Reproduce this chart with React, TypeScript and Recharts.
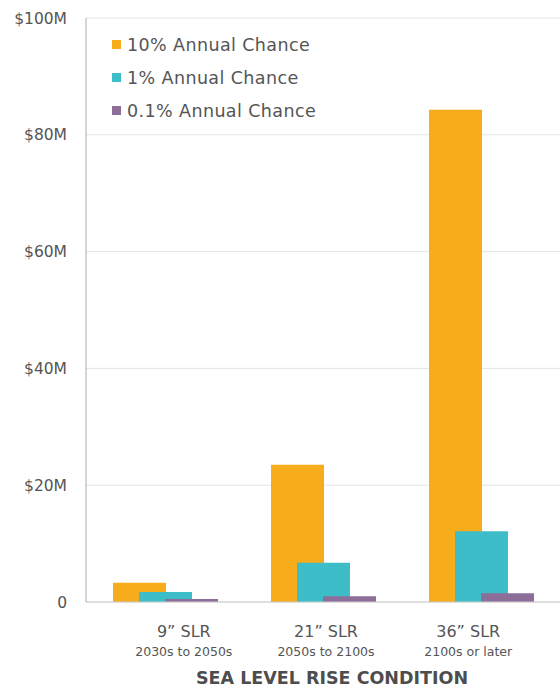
import React from "react";
import {
  Bar,
  BarChart,
  CartesianGrid,
  Legend,
  XAxis,
  YAxis,
} from "recharts";

// values in millions of dollars
const categories = ["9\u201D SLR", "21\u201D SLR", "36\u201D SLR"];
const periods = ["2030s to 2050s", "2050s to 2100s", "2100s or later"];
const tenPct = [3.3, 23.5, 84.3];
const onePct = [1.7, 6.7, 12.1];
const tenthPct = [0.5, 1.0, 1.5];
const yTicks = [0, 20, 40, 60, 80, 100];

const seriesNames = ["10% Annual Chance", "1% Annual Chance", "0.1% Annual Chance"];
const colors = ["#F7AC1B", "#3DBDC8", "#8C6E99"];

const data = categories.map((name, i) => ({
  name,
  period: periods[i],
  ten: tenPct[i],
  one: onePct[i],
  tenth: tenthPct[i],
}));

const FONT = "'DejaVu Sans', sans-serif";
const TEXT = "#555";
const PLOT_MID = 323;

// labels in the original sit a little closer together than the bar groups
const CategoryTick = (props: any) => {
  const { x, y, payload, index } = props;
  const lx = PLOT_MID + (x - PLOT_MID) * 0.9 + 3;
  return (
    <g transform={`translate(${lx},${y})`}>
      <text
        textAnchor="middle"
        y={27}
        fontSize={16}
        fill={TEXT}
        fontFamily={FONT}
      >
        {payload.value}
      </text>
      <text
        textAnchor="middle"
        y={46}
        fontSize={12.5}
        fill={TEXT}
        fontFamily={FONT}
      >
        {periods[index]}
      </text>
    </g>
  );
};

const LegendBox = () => (
  <div style={{ fontFamily: FONT, color: TEXT, fontSize: 17.5, letterSpacing: 0.4 }}>
    {seriesNames.map((s, i) => (
      <div
        key={s}
        style={{ display: "flex", alignItems: "center", height: 33 }}
      >
        <span
          style={{
            width: 9,
            height: 9,
            background: colors[i],
            marginRight: 6,
            display: "inline-block",
          }}
        />
        {s}
      </div>
    ))}
  </div>
);

export default function App() {
  return (
    <div style={{ position: "absolute", left: 0, top: 0 }}>
      <BarChart
        width={560}
        height={692}
        data={data}
        margin={{ top: 18, right: 0, bottom: 0, left: 0 }}
        barSize={53}
        barGap={-27}
      >
        <CartesianGrid vertical={false} stroke="#e4e4e4" />
        <XAxis
          dataKey="name"
          height={90}
          axisLine={{ stroke: "#ccc" }}
          tickLine={false}
          interval={0}
          tick={<CategoryTick />}
          label={{
            value: "SEA LEVEL RISE CONDITION",
            position: "insideBottom",
            offset: 8,
            dx: 9,
            fill: "#4d4d4d",
            fontSize: 17.5,
            fontWeight: 700,
            fontFamily: FONT,
          }}
        />
        <YAxis
          width={86}
          domain={[0, 100]}
          ticks={yTicks}
          interval={0}
          axisLine={{ stroke: "#aaa" }}
          tickLine={false}
          tickMargin={13}
          tick={{ fill: TEXT, fontSize: 15.5, fontFamily: FONT }}
          tickFormatter={(v: number) => (v === 0 ? "0" : `$${v}M`)}
        />
        <Legend
          layout="vertical"
          verticalAlign="middle"
          align="center"
          content={<LegendBox />}
          wrapperStyle={{ left: 112, top: 28, width: 260 }}
        />
        <Bar dataKey="ten" name={seriesNames[0]} fill={colors[0]} isAnimationActive={false} />
        <Bar dataKey="one" name={seriesNames[1]} fill={colors[1]} isAnimationActive={false} />
        <Bar dataKey="tenth" name={seriesNames[2]} fill={colors[2]} isAnimationActive={false} />
      </BarChart>
    </div>
  );
}
